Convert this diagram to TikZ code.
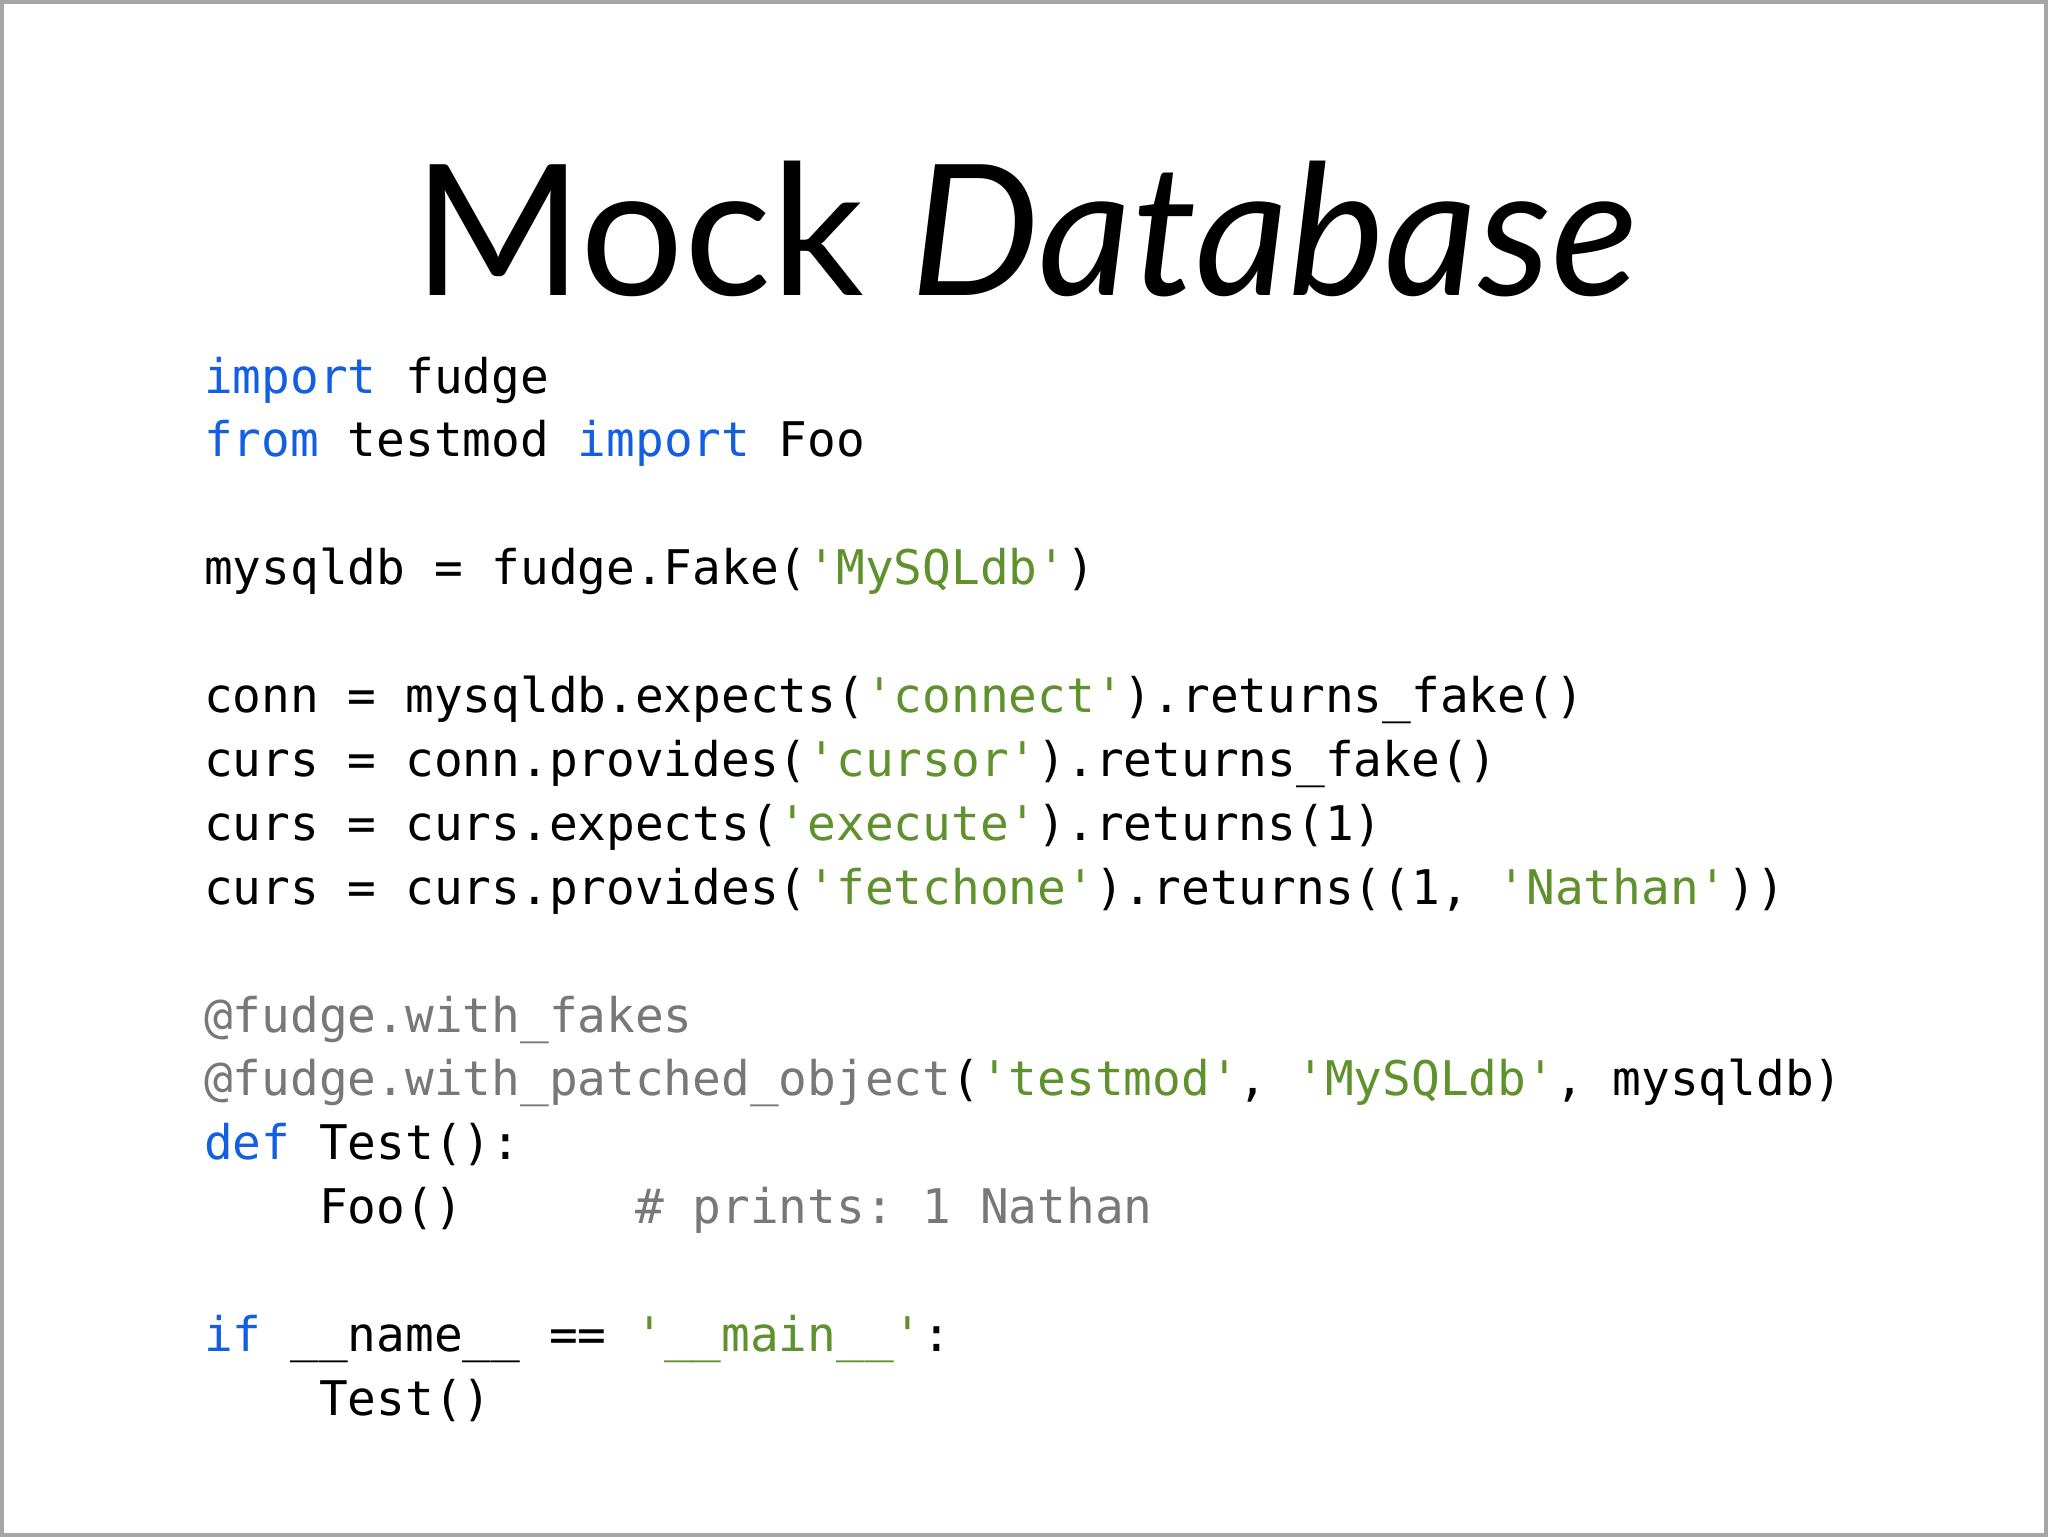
\documentclass[tikz,border=0pt]{standalone}
\usepackage{fontspec}
\setmainfont{Lato}
\setmonofont{DejaVu Sans Mono}
\definecolor{kw}{RGB}{20,95,225}
\definecolor{st}{RGB}{95,145,45}
\definecolor{dc}{RGB}{120,120,120}
\begin{document}
\begin{tikzpicture}[x=0.01cm,y=-0.01cm,
  codeline/.style={anchor=base west,inner sep=0,font=\ttfamily\fontsize{13.6pt}{18pt}\selectfont},
  K/.style={}]
\newcommand{\kw}[1]{\textcolor{kw}{#1}}
\newcommand{\st}[1]{\textcolor{st}{#1}}
\newcommand{\dc}[1]{\textcolor{dc}{#1}}
\draw[gray!70,line width=1pt,fill=white] (0,0) rectangle (2048,1536);
\useasboundingbox (0,0) rectangle (2048,1536);
\node[anchor=base,inner sep=0,font=\fontsize{52pt}{60pt}\selectfont] (title) at (1026,294) {Mock \textit{Database}};
\def\lx{202}
\node[codeline] (l0) at (\lx,392) {\kw{import} fudge};
\node[codeline] (l1) at (\lx,456) {\kw{from} testmod \kw{import} Foo};
\node[codeline] (l3) at (\lx,584) {mysqldb = fudge.Fake(\st{'MySQLdb'})};
\node[codeline] (l5) at (\lx,712) {conn = mysqldb.expects(\st{'connect'}).returns\_fake()};
\node[codeline] (l6) at (\lx,776) {curs = conn.provides(\st{'cursor'}).returns\_fake()};
\node[codeline] (l7) at (\lx,840) {curs = curs.expects(\st{'execute'}).returns(1)};
\node[codeline] (l8) at (\lx,904) {curs = curs.provides(\st{'fetchone'}).returns((1, \st{'Nathan'}))};
\node[codeline] (l10) at (\lx,1032) {\dc{@fudge.with\_fakes}};
\node[codeline] (l11) at (\lx,1096) {\dc{@fudge.with\_patched\_object}(\st{'testmod'}, \st{'MySQLdb'}, mysqldb)};
\node[codeline] (l12) at (\lx,1160) {\kw{def} Test():};
\node[codeline] (l13) at (\lx,1224) {~~~~Foo()~~~~~~\dc{\# prints: 1 Nathan}};
\node[codeline] (l15) at (\lx,1352) {\kw{if} \_\_name\_\_ == \st{'\_\_main\_\_'}:};
\node[codeline] (l16) at (\lx,1416) {~~~~Test()};
\end{tikzpicture}
\end{document}
